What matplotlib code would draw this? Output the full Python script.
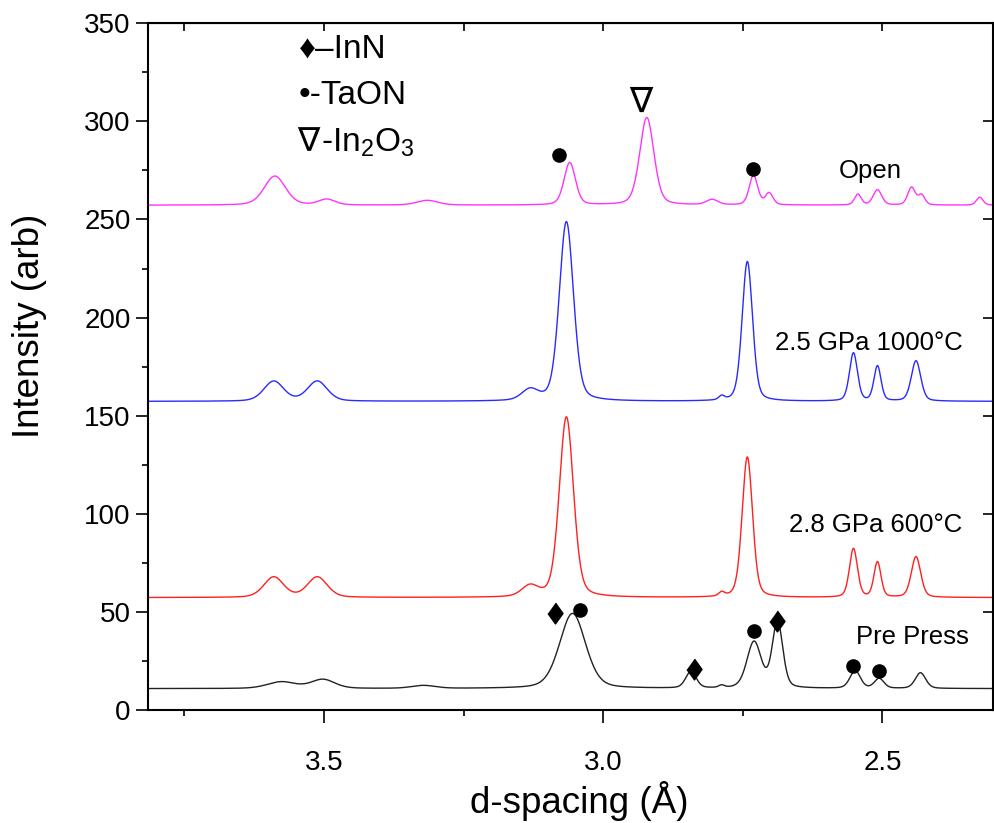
import matplotlib
matplotlib.use("Agg")
import matplotlib.pyplot as plt
import numpy as np

plt.rcParams['font.family'] = ['Liberation Sans', 'DejaVu Sans']
plt.rcParams['mathtext.fontset'] = 'custom'
plt.rcParams['mathtext.rm'] = 'Liberation Sans'
plt.rcParams['mathtext.it'] = 'Liberation Sans:italic'

# peak lists: centre (Å), height above baseline, FWHM (Å)
open_base = 257.3
open_centres = [3.588, 3.495, 3.315, 3.060, 2.922, 2.805, 2.731, 2.703, 2.544, 2.509, 2.448, 2.430, 2.326]
open_heights = [14.8, 2.9, 2.4, 21.6, 44.6, 2.7, 15.0, 6.0, 5.5, 7.8, 9.0, 5.0, 4.0]
open_widths = [0.045, 0.035, 0.045, 0.024, 0.030, 0.025, 0.018, 0.016, 0.014, 0.018, 0.016, 0.014, 0.014]

hp1000_base = 157.3
hp1000_centres = [3.590, 3.512, 3.131, 3.066, 2.788, 2.742, 2.552, 2.509, 2.440]
hp1000_heights = [10.2, 10.2, 5.5, 91.5, 2.0, 71.2, 24.5, 17.8, 20.6]
hp1000_widths = [0.042, 0.042, 0.035, 0.030, 0.012, 0.022, 0.017, 0.015, 0.020]

hp600_base = 57.3
hp600_centres = [3.590, 3.512, 3.131, 3.066, 2.788, 2.742, 2.552, 2.509, 2.440]
hp600_heights = [10.4, 10.4, 5.5, 92.0, 2.0, 71.6, 24.8, 17.9, 20.8]
hp600_widths = [0.042, 0.042, 0.035, 0.030, 0.012, 0.022, 0.017, 0.015, 0.020]

pre_base = 10.9
pre_centres = [3.576, 3.502, 3.322, 3.055, 2.843, 2.788, 2.730, 2.688, 2.549, 2.506, 2.432]
pre_heights = [3.4, 4.6, 1.5, 38.3, 8.5, 1.2, 23.5, 34.0, 9.0, 5.0, 8.0]
pre_widths = [0.060, 0.050, 0.050, 0.055, 0.022, 0.012, 0.030, 0.022, 0.022, 0.020, 0.022]

# phase markers (d, intensity)
diamond_d = [3.087, 2.837, 2.688]
diamond_y = [49.6, 20.9, 45.6]
circle_d = [3.042, 2.730, 2.552, 2.506, 3.079, 2.731]
circle_y = [51.0, 40.3, 22.4, 19.9, 282.7, 275.5]
triangle_d = 2.932
triangle_y = 309.7

labels = ["Open", "2.5 GPa 1000°C", "2.8 GPa 600°C", "Pre Press"]
label_d = [2.522, 2.525, 2.512, 2.446]
label_y = [271.0, 183.5, 90.5, 33.5]


def profile(d, centres, heights, widths, base, eta=0.3):
    y = np.full_like(d, base)
    for c, h, w in zip(centres, heights, widths):
        g = np.exp(-4 * np.log(2) * ((d - c) / w) ** 2)
        l = 1 / (1 + 4 * ((d - c) / w) ** 2)
        y += h * (eta * l + (1 - eta) * g)
    return y


d = np.linspace(3.82, 2.30, 3000)

fig = plt.figure(figsize=(9.94, 8.23), dpi=100)
ax = fig.add_axes([0.149, 0.1373, 0.8495, 0.8344])

ax.plot(d, profile(d, pre_centres, pre_heights, pre_widths, pre_base), color='#222222', lw=1.0)
ax.plot(d, profile(d, hp600_centres, hp600_heights, hp600_widths, hp600_base), color='#ff2020', lw=1.0)
ax.plot(d, profile(d, hp1000_centres, hp1000_heights, hp1000_widths, hp1000_base), color='#2a2aff', lw=1.0)
ax.plot(d, profile(d, open_centres, open_heights, open_widths, open_base), color='#ff33ff', lw=1.0)

diamond = [(0, 1), (0.72, 0), (0, -1), (-0.72, 0)]
ax.plot(diamond_d, diamond_y, ls='none', marker=diamond, ms=15, color='black')
ax.plot(circle_d, circle_y, ls='none', marker='o', ms=9.5, color='black')
ax.text(triangle_d, triangle_y, "∇", fontsize=25, family='DejaVu Sans', ha='center', va='center')

for t, x, y in zip(labels, label_d, label_y):
    ax.text(x, y, t, fontsize=18.5, ha='center', va='baseline')

# phase key in the upper left
ax.text(3.545, 332.5, "♦–InN", fontsize=24, ha='left', va='baseline')
ax.text(3.545, 308.7, "•-TaON", fontsize=24, ha='left', va='baseline')
ax.text(3.549, 284.7, "∇", fontsize=24, family='DejaVu Sans', ha='left', va='baseline')
ax.text(3.505, 284.7, "-In$_2$O$_3$", fontsize=24, ha='left', va='baseline')

ax.set_xlim(3.815, 2.303)
ax.set_ylim(0, 350)
ax.set_xticks([3.5, 3.0, 2.5])
ax.set_xticklabels(["3.5", "3.0", "2.5"])
ax.set_xticks([3.75, 3.25, 2.75], minor=True)
ax.set_yticks(np.arange(0, 351, 50))
ax.set_yticks(np.arange(25, 350, 50), minor=True)
ax.tick_params(which='major', direction='out', length=9, width=1.2, labelsize=20)
ax.tick_params(which='minor', direction='out', length=4.5, width=1.2)
ax.tick_params(axis='x', pad=20)
for s in ax.spines.values():
    s.set_linewidth(1.5)

top = ax.secondary_xaxis('top')
top.set_xticks([3.75, 3.5, 3.25, 3.0, 2.75, 2.5])
top.tick_params(direction='in', length=6, width=1.2, labeltop=False)
right = ax.secondary_yaxis('right')
right.set_yticks(np.arange(0, 351, 50))
right.tick_params(direction='in', length=7, width=1.2, labelright=False)

ax.set_xlabel("d-spacing (Å)", fontsize=26.5)
ax.set_ylabel("Intensity (arb)", fontsize=26.5)
ax.xaxis.set_label_coords(0.511, -0.103)
ax.yaxis.set_label_coords(-0.12, 0.56)

fig.savefig("out.png", dpi=100)
